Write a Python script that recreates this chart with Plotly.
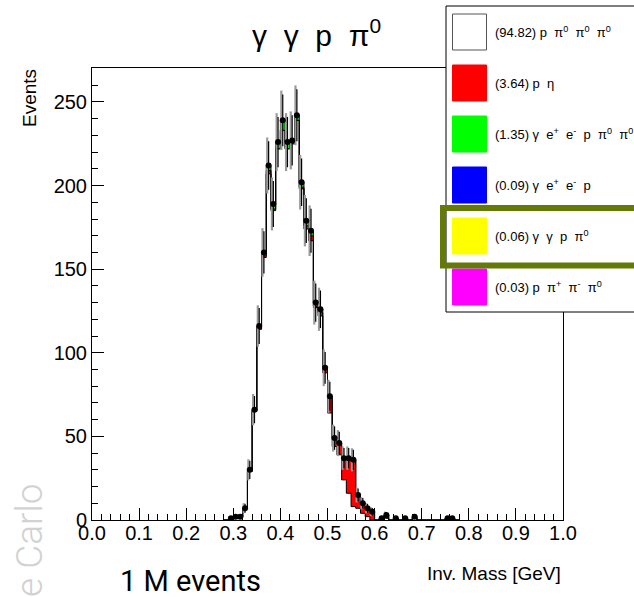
import numpy as np
import plotly.graph_objects as go

# ---------------- data ----------------
bin_centers = [0.285, 0.295, 0.305, 0.315, 0.325, 0.335, 0.345, 0.355, 0.365, 0.375,
               0.385, 0.395, 0.405, 0.415, 0.425, 0.435, 0.445, 0.455, 0.465, 0.475,
               0.485, 0.495, 0.505, 0.515, 0.525, 0.535, 0.545, 0.555, 0.565, 0.575,
               0.585, 0.595, 0.605, 0.615, 0.625, 0.635, 0.645, 0.655, 0.665, 0.675,
               0.685, 0.695, 0.705, 0.715, 0.725, 0.735, 0.745, 0.755, 0.765, 0.775]
bin_width = 0.01

data_counts = [0, 1, 2, 2, 7, 30, 66, 116, 160, 212,
               189, 226, 239, 226, 227, 242, 202, 179, 173, 130,
               126, 91, 74, 49, 46, 37, 37, 36, 15, 10,
               7, 5, 0, 1, 3, 0, 1, 0, 1, 0,
               2, 0, 0, 0, 0, 0, 0, 1, 1, 0]

# stacked components
p3pi0_counts = [0, 1, 2, 2, 7, 29, 65, 114, 157, 207,
                185, 222, 233, 222, 225, 239, 198, 174, 167, 127,
                122, 88, 64, 44, 39, 24, 16, 8, 7, 4,
                2, 0, 0, 0, 1, 0, 1, 0, 1, 0,
                1, 0, 0, 0, 0, 0, 0, 1, 1, 0]
peta_counts = [0, 0, 0, 0, 0, 0, 0, 1, 1, 2,
               1, 0, 0, 0, 0, 0, 1, 2, 3, 1,
               2, 2, 9, 4, 7, 13, 21, 28, 8, 6,
               5, 5, 0, 1, 2, 0, 0, 0, 0, 0,
               1, 0, 0, 0, 0, 0, 0, 0, 0, 0]
geep2pi0_counts = [0, 0, 0, 0, 0, 1, 1, 1, 2, 3,
                   3, 4, 6, 4, 2, 3, 3, 3, 3, 2,
                   2, 1, 1, 1, 0, 0, 0, 0, 0, 0,
                   0, 0, 0, 0, 0, 0, 0, 0, 0, 0,
                   0, 0, 0, 0, 0, 0, 0, 0, 0, 0]

legend_labels = [
    "(94.82) p\u00a0\u00a0\u03c0<sup>0</sup>\u00a0\u00a0\u03c0<sup>0</sup>\u00a0\u00a0\u03c0<sup>0</sup>",
    "(3.64) p\u00a0\u00a0\u03b7",
    "(1.35) \u03b3\u00a0\u00a0e<sup>+</sup>\u00a0\u00a0e<sup>-</sup>\u00a0\u00a0p\u00a0\u00a0\u03c0<sup>0</sup>\u00a0\u00a0\u03c0<sup>0</sup>",
    "(0.09) \u03b3\u00a0\u00a0e<sup>+</sup>\u00a0\u00a0e<sup>-</sup>\u00a0\u00a0p",
    "(0.06) \u03b3\u00a0\u00a0\u03b3\u00a0\u00a0p\u00a0\u00a0\u03c0<sup>0</sup>",
    "(0.03) p\u00a0\u00a0\u03c0<sup>+</sup>\u00a0\u00a0\u03c0<sup>-</sup>\u00a0\u00a0\u03c0<sup>0</sup>",
]
legend_colors = ["#ffffff", "#ff0000", "#00ff00", "#0000ff", "#ffff00", "#ff00ff"]

title_text = "\u03b3\u00a0\u00a0\u03b3\u00a0\u00a0p\u00a0\u00a0\u03c0<sup>0</sup>"

# ---------------- layout geometry ----------------
W, H = 634, 597
L, R, T, B = 92, 563, 68, 520
PW, PH = R - L, B - T


def px(xp):
    return (xp - L) / PW


def py(yp):
    return (B - yp) / PH


FONT = "Liberation Sans, Arial, Helvetica, sans-serif"

centers = np.array(bin_centers)
edges_lo = centers - bin_width / 2
edges_hi = centers + bin_width / 2


def step_xy(vals):
    vals = list(vals)
    xs = [edges_lo[0]] + list(edges_lo) + [edges_hi[-1], edges_hi[-1]]
    ys = [0] + vals + [vals[-1], 0]
    return xs, ys


c1 = np.array(p3pi0_counts, dtype=float)
c2 = c1 + np.array(peta_counts)
c3 = c2 + np.array(geep2pi0_counts)

fig = go.Figure()

for i, (cum, col) in enumerate([(c1, "#ffffff"), (c2, "#ff0000"), (c3, "#00ff00")]):
    xs, ys = step_xy(cum)
    fig.add_trace(go.Scatter(
        x=xs, y=ys, mode="lines", line=dict(shape="hv", color="black", width=1),
        fill="tozeroy" if i == 0 else "tonexty", fillcolor=col,
        hoverinfo="skip", showlegend=False))

d = np.array(data_counts, dtype=float)
mask = d > 0
err = np.sqrt(d[mask])

# gray error bars (stack uncertainty)
fig.add_trace(go.Scatter(
    x=centers[mask] - 0.003, y=d[mask], mode="markers",
    marker=dict(size=1, color="rgba(0,0,0,0)"),
    error_y=dict(type="data", array=err * 1.15, color="#9a9a9a", thickness=2.2, width=0),
    hoverinfo="skip", showlegend=False))

# data points
fig.add_trace(go.Scatter(
    x=centers[mask], y=d[mask], mode="markers",
    marker=dict(size=6, color="black"),
    error_y=dict(type="data", array=err, color="black", thickness=1.2, width=0),
    showlegend=False))

shapes = []
annotations = []

# legend box
shapes.append(dict(type="rect", xref="paper", yref="paper",
                   x0=px(446), x1=px(642), y0=py(312), y1=py(6),
                   line=dict(color="black", width=1), fillcolor="white", layer="above"))
row_y = [32, 83, 134, 185, 236, 287]
for yc, col, lab in zip(row_y, legend_colors, legend_labels):
    shapes.append(dict(type="rect", xref="paper", yref="paper",
                       x0=px(452.5), x1=px(486.5), y0=py(yc + 18), y1=py(yc - 18),
                       line=dict(color="#555555" if col == "#ffffff" else col, width=1),
                       fillcolor=col, layer="above"))
    annotations.append(dict(text=lab, xref="paper", yref="paper", x=px(493), y=py(yc),
                            xanchor="left", yanchor="middle", showarrow=False,
                            font=dict(family=FONT, size=13, color="black")))
# highlight
shapes.append(dict(type="rect", xref="paper", yref="paper",
                   x0=px(443), x1=px(650), y0=py(265.5), y1=py(208),
                   line=dict(color="#647a08", width=6), fillcolor="rgba(0,0,0,0)", layer="above"))

# title
annotations.append(dict(text=title_text, xref="paper", yref="paper", x=px(316), y=py(33),
                        xanchor="center", yanchor="middle", showarrow=False,
                        font=dict(family=FONT, size=30, color="black")))
# y title
annotations.append(dict(text="Events", xref="paper", yref="paper", x=px(29), y=py(98),
                        xanchor="center", yanchor="middle", showarrow=False, textangle=-90,
                        font=dict(family=FONT, size=19, color="black")))
# x title
annotations.append(dict(text="Inv. Mass [GeV]", xref="paper", yref="paper", x=px(563), y=py(573),
                        xanchor="right", yanchor="middle", showarrow=False,
                        font=dict(family=FONT, size=19, color="black")))
# 1 M events
annotations.append(dict(text="1\u00a0M events", xref="paper", yref="paper", x=px(118), y=py(581),
                        xanchor="left", yanchor="middle", showarrow=False,
                        font=dict(family="Roboto, sans-serif", size=29, color="black")))
# Monte Carlo watermark
annotations.append(dict(text="Monte Carlo", xref="paper", yref="paper", x=px(29), y=py(583),
                        xanchor="center", yanchor="middle", showarrow=False, textangle=-90,
                        font=dict(family="Roboto, Lato, sans-serif", size=37, color="#d2d2d2",
                                  weight=300)))

fig.update_layout(
    width=W, height=H,
    margin=dict(l=L, r=W - R, t=T, b=H - B, pad=0),
    paper_bgcolor="white", plot_bgcolor="white",
    shapes=shapes, annotations=annotations,
    showlegend=False,
    xaxis=dict(range=[0, 1], tick0=0, dtick=0.1, tickformat=".1f",
               ticks="inside", ticklen=12, tickwidth=1, tickcolor="black",
               minor=dict(dtick=0.02, ticks="inside", ticklen=6, tickcolor="black", tickwidth=1),
               showline=True, linecolor="black", linewidth=1, mirror=True,
               showgrid=False, zeroline=False, ticklabelstandoff=-5,
               tickfont=dict(family=FONT, size=20, color="black")),
    yaxis=dict(range=[0, 270.3], tick0=0, dtick=50,
               ticks="inside", ticklen=12, tickwidth=1, tickcolor="black",
               minor=dict(dtick=10, ticks="inside", ticklen=6, tickcolor="black", tickwidth=1),
               showline=True, linecolor="black", linewidth=1, mirror=True,
               showgrid=False, zeroline=False,
               tickfont=dict(family=FONT, size=20, color="black")),
)

fig.write_html("out.html")
